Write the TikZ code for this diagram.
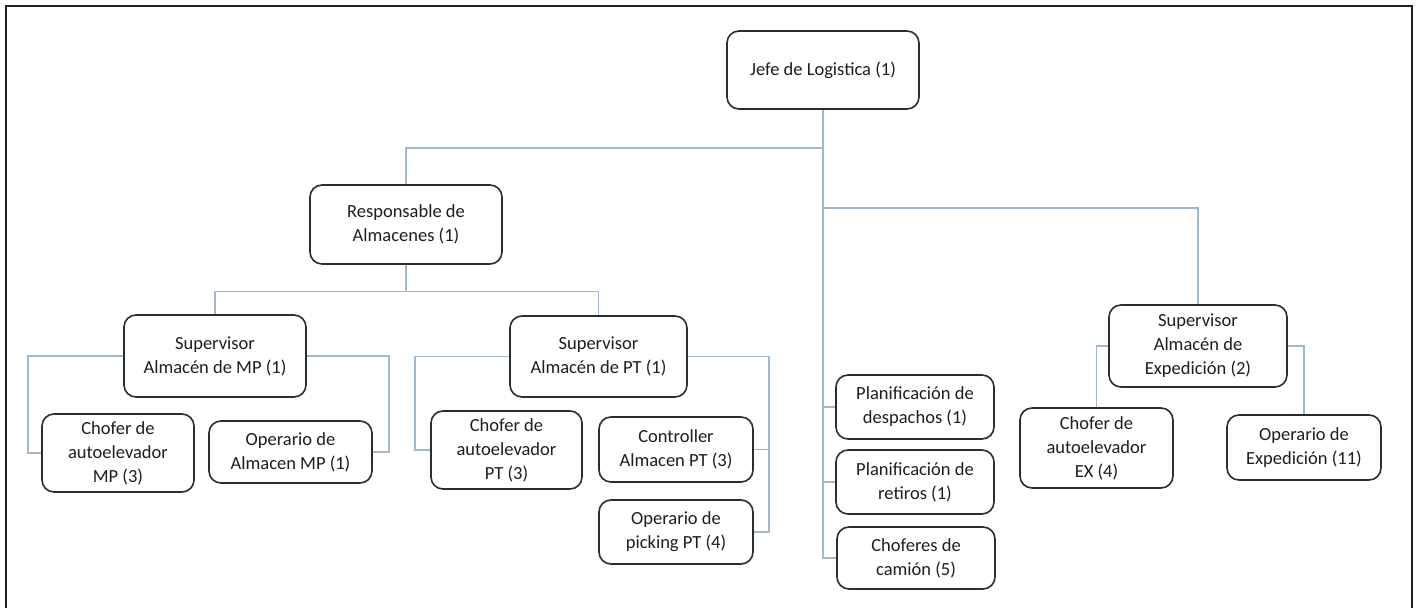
\documentclass[tikz,border=0pt]{standalone}
\usepackage{fontspec}
\setmainfont{Carlito}
\definecolor{linkblue}{RGB}{160,184,206}
\definecolor{boxline}{RGB}{45,45,45}
\definecolor{frameline}{RGB}{32,32,32}
\definecolor{txt}{RGB}{30,30,30}
\tikzset{
  unit/.style={draw=boxline, line width=1.6pt, rounded corners=12pt, fill=white,
    align=center, inner sep=0pt, text=txt,
    font=\fontsize{18.5}{24}\selectfont},
  conn/.style={draw=linkblue, line width=1.6pt}
}
\begin{document}
\begin{tikzpicture}[x=1pt,y=-1pt]
\useasboundingbox (0,0) rectangle (1417,608);
% outer frame (open at the bottom)
\draw[frameline, line width=2.6pt] (6,608) -- (6,6) -- (1412,6) -- (1412,608);

% boxes
\node[unit, minimum width=192pt, minimum height=78pt] (jefe) at (823,70) {Jefe de Logistica (1)};
\node[unit, minimum width=192pt, minimum height=79pt] (resp) at (406,224.5) {Responsable de\\Almacenes (1)};
\node[unit, minimum width=182pt, minimum height=82pt] (supmp) at (215,356) {Supervisor\\Almacén de MP (1)};
\node[unit, minimum width=177pt, minimum height=81pt] (suppt) at (598.5,356.5) {Supervisor\\Almacén de PT (1)};
\node[unit, minimum width=178pt, minimum height=82pt] (supex) at (1198,346) {Supervisor\\Almacén de\\Expedición (2)};
\node[unit, minimum width=152pt, minimum height=78pt] (chmp) at (118,453) {Chofer de\\autoelevador\\MP (3)};
\node[unit, minimum width=163pt, minimum height=62pt] (opmp) at (290.5,452) {Operario de\\Almacen MP (1)};
\node[unit, minimum width=151pt, minimum height=78pt] (chpt) at (506.5,450) {Chofer de\\autoelevador\\PT (3)};
\node[unit, minimum width=154pt, minimum height=65pt] (ctrl) at (676,449.5) {Controller\\Almacen PT (3)};
\node[unit, minimum width=154pt, minimum height=64pt] (pick) at (676,532) {Operario de\\picking PT (4)};
\node[unit, minimum width=158pt, minimum height=64pt] (desp) at (915,407) {Planificación de\\despachos (1)};
\node[unit, minimum width=158pt, minimum height=64pt] (reti) at (915,482) {Planificación de\\retiros (1)};
\node[unit, minimum width=158pt, minimum height=62pt] (cami) at (916,558) {Choferes de\\camión (5)};
\node[unit, minimum width=153pt, minimum height=80pt] (chex) at (1096.5,448) {Chofer de\\autoelevador\\EX (4)};
\node[unit, minimum width=154pt, minimum height=65pt] (opex) at (1304,447.5) {Operario de\\Expedición (11)};

% connectors: main trunk with the planning boxes hanging off it
\draw[conn] (jefe.south) |- (cami.west);
\draw[conn] (jefe.south |- desp.west) -- (desp.west);
\draw[conn] (jefe.south |- reti.west) -- (reti.west);
\draw[conn] ([yshift=-38pt]jefe.south) -| (resp.north);
\draw[conn] ([yshift=-98pt]jefe.south) -| (supex.north);

% warehouse manager to both supervisors
\draw[conn] (resp.south) -- ++(0,26.5) -| (supmp.north);
\draw[conn] ([yshift=-26.5pt]resp.south) -| (suppt.north);

% raw material warehouse
\draw[conn] (supmp.west) -- ++(-95,0) |- (chmp.west);
\draw[conn] (supmp.east) -- ++(82,0) |- (opmp.east);

% finished goods warehouse
\draw[conn] (suppt.west) -- ++(-94,0) |- (chpt.west);
\draw[conn] (pick.east) -- ++(15,0) |- (suppt.east);
\draw[conn] (ctrl.east) -- ++(15,0);

% dispatch warehouse
\draw[conn] (supex.west) -| (chex.north);
\draw[conn] (supex.east) -| (opex.north);
\end{tikzpicture}
\end{document}
